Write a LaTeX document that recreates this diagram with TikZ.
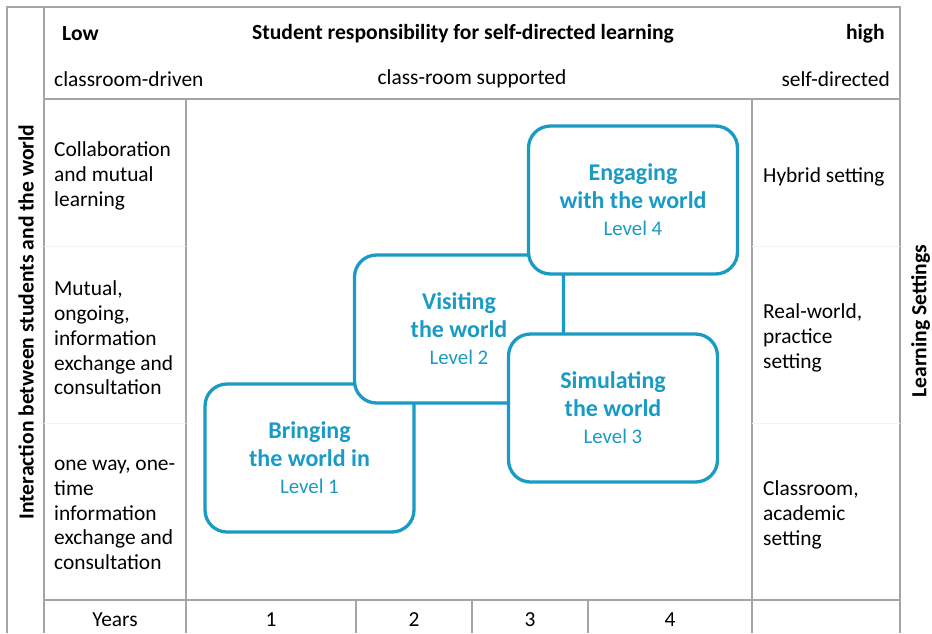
\documentclass[tikz,border=0pt]{standalone}
\usepackage{fontspec}
\setmainfont{Carlito}
\definecolor{lvlblue}{RGB}{26,155,196}
\definecolor{gridgray}{RGB}{165,165,165}
\newcommand\lvlnumfont{\mdseries\fontsize{20.8}{27.5}\selectfont}
\begin{document}
\begin{tikzpicture}[x=1pt,y=-1pt,
  grid/.style={draw=gridgray,line width=1.3pt},
  faint/.style={draw=gray!10,line width=1pt},
  txt/.style={font=\fontsize{21.4}{24.8}\selectfont,inner sep=0pt,align=left},
  btxt/.style={font=\fontsize{21.6}{24.8}\selectfont\bfseries,inner sep=0pt},
  lvl/.style={draw=lvlblue,line width=3.3pt,fill=white,rounded corners=22pt,
    minimum width=209pt,minimum height=148pt,align=center,text=lvlblue,
    inner sep=0pt,font=\fontsize{24}{27.5}\selectfont\bfseries}
]
\useasboundingbox (0,0) rectangle (932,633);
\fill[white] (0,0) rectangle (932,633);

% grid
\draw[grid] (7,633) -- (7,7) -- (900,7) -- (900,633);
\draw[grid] (44,7) -- (44,633);
\draw[grid] (44,99) -- (900,99);
\draw[grid] (44,600) -- (900,600);
\draw[grid] (186,99) -- (186,633);
\draw[grid] (752,99) -- (752,633);
\draw[grid] (356,600) -- (356,633);
\draw[grid] (472,600) -- (472,633);
\draw[grid] (588,600) -- (588,633);
\draw[faint] (44,246) -- (186,246);
\draw[faint] (44,423) -- (186,423);
\draw[faint] (752,246) -- (900,246);
\draw[faint] (752,423) -- (900,423);

% header
\node[btxt,anchor=west] (low) at (62,33.5) {Low};
\node[btxt] (title) at (463,33.5) {Student responsibility for self-directed learning};
\node[btxt,anchor=east] (high) at (885,33.5) {high};
\node[txt,anchor=west] (cd) at (54,79) {classroom-driven};
\node[txt] (cs) at (472,79) {class-room supported};
\node[txt,anchor=east] (sd) at (890,79) {self-directed};

% side labels
\node[btxt,rotate=90] (ylab) at (26,322) {Interaction between students and the world};
\node[btxt,rotate=90] (rlab) at (920.5,321) {Learning Settings};

% left column
\node[txt,anchor=west] (l1) at (54,176) {Collaboration\\and mutual\\learning};
\node[txt,anchor=west] (l2) at (54,338) {Mutual,\\ongoing,\\information\\exchange and\\consultation};
\node[txt,anchor=west] (l3) at (54,515) {one way, one-\\time\\information\\exchange and\\consultation};

% right column
\node[txt,anchor=west] (r1) at (763,177) {Hybrid setting};
\node[txt,anchor=west] (r2) at (763,338) {Real-world,\\practice\\setting};
\node[txt,anchor=west] (r3) at (763,515) {Classroom,\\academic\\setting};

% bottom row
\node[txt] (yrs) at (115,620) {Years};
\node[txt] (y1) at (271,620) {1};
\node[txt] (y2) at (414,620) {2};
\node[txt] (y3) at (530,620) {3};
\node[txt] (y4) at (670,620) {4};

% level boxes
\node[lvl] (b1) at (309.5,458) {Bringing\\the world in\\{\lvlnumfont Level 1}};
\node[lvl] (b2) at (459,329) {Visiting\\the world\\{\lvlnumfont Level 2}};
\node[lvl] (b3) at (613,408) {Simulating\\the world\\{\lvlnumfont Level 3}};
\node[lvl] (b4) at (633,200) {Engaging\\with the world\\{\lvlnumfont Level 4}};
\end{tikzpicture}
\end{document}
